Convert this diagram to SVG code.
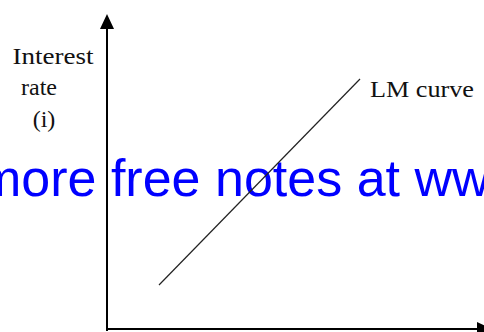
<svg xmlns="http://www.w3.org/2000/svg" width="484" height="332" viewBox="0 0 484 332">
<style>
.lbl{font-family:"Liberation Serif","Times New Roman",serif;font-size:24px;fill:#111}
.axis{stroke:#000;stroke-width:2;fill:none}
.curve{stroke:#222;stroke-width:1.2;fill:none}
.wm{font-family:"Liberation Sans",Arial,sans-serif;font-size:52px;fill:#0000ff}
</style>
<rect width="484" height="332" fill="#fff"/>
<g id="watermark"><text class="wm" x="-22" y="196">more free notes at www</text></g>
<g id="connectors">
<line class="axis" x1="107" y1="331" x2="107" y2="28"/>
<path d="M100,29 L107,14 L114,29 Z" fill="#000"/>
<line class="axis" x1="106" y1="329" x2="478" y2="329"/>
<path d="M477,322 L492,329 L477,336 Z" fill="#000"/>
<line class="curve" x1="159" y1="285" x2="360" y2="79"/>
</g>
<g id="y-label">
<text class="lbl" x="53" y="64" text-anchor="middle" textLength="81" lengthAdjust="spacingAndGlyphs">Interest</text>
<text class="lbl" x="39" y="95" text-anchor="middle">rate</text>
<text class="lbl" x="44" y="127" text-anchor="middle">(i)</text>
</g>
<g id="lm-label">
<text class="lbl" x="370" y="97" textLength="104" lengthAdjust="spacingAndGlyphs">LM curve</text>
</g>
</svg>
